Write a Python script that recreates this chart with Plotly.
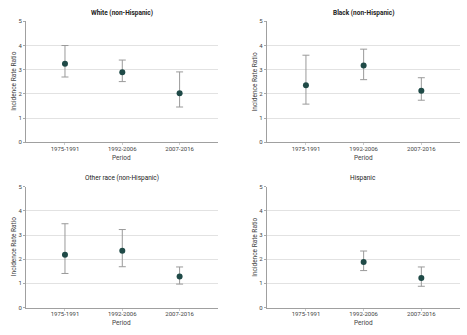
import plotly.graph_objects as go

periods = ["1975-1991", "1992-2006", "2007-2016"]
panel_titles = ["White (non-Hispanic)", "Black (non-Hispanic)", "Other race (non-Hispanic)", "Hispanic"]
title_bold = [True, True, False, False]

white_irr = [3.25, 2.90, 2.03]
white_lo = [2.70, 2.51, 1.46]
white_hi = [4.00, 3.40, 2.91]

black_irr = [2.36, 3.17, 2.13]
black_lo = [1.58, 2.59, 1.74]
black_hi = [3.60, 3.85, 2.67]

other_irr = [2.19, 2.35, 1.28]
other_lo = [1.41, 1.69, 0.97]
other_hi = [3.47, 3.23, 1.68]

hisp_irr = [None, 1.89, 1.22]
hisp_lo = [None, 1.53, 0.88]
hisp_hi = [None, 2.34, 1.68]

y_ticks = [0, 1, 2, 3, 4, 5]

panels = [
    (white_irr, white_lo, white_hi),
    (black_irr, black_lo, black_hi),
    (other_irr, other_lo, other_hi),
    (hisp_irr, hisp_lo, hisp_hi),
]

W, H = 467, 335
# pixel boxes: (left, right, top, bottom)
boxes = [
    (26, 218, 17.7, 141.3),
    (266.7, 460, 17.7, 141.3),
    (26, 218, 186.7, 310),
    (266.7, 460, 186.7, 310),
]

FONT = "Roboto"
marker_color = "#1f4a47"
bar_color = "#9a9a9a"
axis_color = "#a0a0a0"
grid_color = "#e2e2e2"
text_color = "#444444"

fig = go.Figure()
annotations = []
for i, ((irr, lo, hi), (l, r, t, b)) in enumerate(zip(panels, boxes)):
    xa = "x" if i == 0 else f"x{i+1}"
    ya = "y" if i == 0 else f"y{i+1}"
    xs, ys, ep, em = [], [], [], []
    for k, v in enumerate(irr):
        if v is None:
            continue
        xs.append(k)
        ys.append(v)
        ep.append(hi[k] - v)
        em.append(v - lo[k])
    fig.add_trace(go.Scatter(
        x=xs, y=ys, mode="markers", xaxis=xa, yaxis=ya,
        marker=dict(color=marker_color, size=6),
        error_y=dict(type="data", symmetric=False, array=ep, arrayminus=em,
                     color=bar_color, thickness=1, width=3.5),
        showlegend=False, hoverinfo="skip",
    ))
    xd = [l / W, r / W]
    yd = [1 - b / H, 1 - t / H]
    suffix = "" if i == 0 else str(i + 1)
    fig.update_layout(**{
        f"xaxis{suffix}": dict(
            domain=xd, range=[-0.68, 2.67], anchor=ya,
            tickvals=[0, 1, 2], ticktext=periods,
            showgrid=False, zeroline=False,
            showline=True, linecolor=axis_color, linewidth=1,
            ticks="outside", ticklen=2, tickcolor="#cccccc",
            ticklabelstandoff=-2,
            tickfont=dict(family=FONT, size=6, color=text_color),
            fixedrange=True,
        ),
        f"yaxis{suffix}": dict(
            domain=yd, range=[0, 5], anchor=xa,
            tickvals=y_ticks,
            showgrid=True, gridcolor=grid_color, gridwidth=1,
            zeroline=False,
            showline=True, linecolor=axis_color, linewidth=1,
            ticks="outside", ticklen=2, tickcolor="#aaaaaa",
            tickfont=dict(family=FONT, size=6, color=text_color),
            fixedrange=True,
        ),
    })
    cx = (l + r) / 2 / W
    ttl = f"<b>{panel_titles[i]}</b>" if title_bold[i] else panel_titles[i]
    annotations.append(dict(
        text=ttl, x=cx, y=1 - (t - 9) / H,
        xref="paper", yref="paper", showarrow=False,
        xanchor="center", yanchor="middle",
        font=dict(family=FONT, size=6.5, color="#222222"),
    ))
    annotations.append(dict(
        text="Period", x=cx, y=1 - (b + 15.5) / H,
        xref="paper", yref="paper", showarrow=False,
        xanchor="center", yanchor="middle",
        font=dict(family=FONT, size=6.5, color=text_color),
    ))
    annotations.append(dict(
        text="Incidence Rate Ratio", x=(l - 12) / W, y=1 - (t + b) / 2 / H,
        xref="paper", yref="paper", showarrow=False, textangle=-90,
        xanchor="center", yanchor="middle",
        font=dict(family=FONT, size=6.5, color=text_color),
    ))

fig.update_layout(
    width=W, height=H,
    margin=dict(l=0, r=0, t=0, b=0),
    paper_bgcolor="white", plot_bgcolor="white",
    annotations=annotations,
)

fig.write_html("out.html", config={"displayModeBar": False})
